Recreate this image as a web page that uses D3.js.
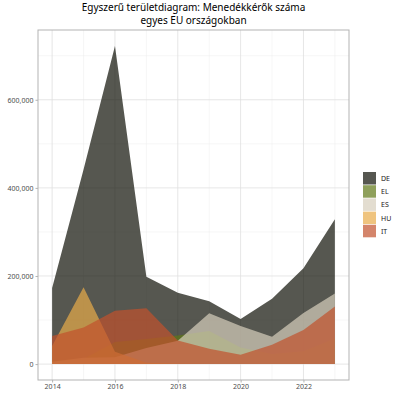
<!DOCTYPE html>
<html>
<head>
<meta charset="utf-8">
<script src="https://cdn.jsdelivr.net/npm/d3@7"></script>
<style>
  body { margin: 0; background: #fff; }
  text { font-family: "Noto Sans", sans-serif; }
</style>
</head>
<body>
<div id="chart"></div>
<script>
// first-time asylum applicants
var years = [2014, 2015, 2016, 2017, 2018, 2019, 2020, 2021, 2022, 2023];
var countries = ["DE", "EL", "ES", "HU", "IT"];
var DE = [172945, 441800, 722265, 198255, 161885, 142450, 102525, 148175, 217735, 329035];
var EL = [7585, 11370, 49875, 56940, 64975, 74915, 37860, 22660, 29135, 57895];
var ES = [5460, 14600, 15570, 36605, 52730, 115190, 86385, 62050, 116135, 160460];
var HU = [41215, 174435, 28215, 3115, 635, 465, 90, 40, 45, 30];
var IT = [63655, 82790, 121185, 126550, 53440, 35005, 21330, 43910, 77195, 130565];
var colors = ["#0e1005", "#5f7716", "#d7cebc", "#e8ab48", "#c2512c"];
var xTicks = [2014, 2016, 2018, 2020, 2022];
var yTicks = [0, 200000, 400000, 600000];

var seriesValues = [DE, EL, ES, HU, IT];

var width = 400, height = 400;
var margin = {top: 30, right: 51, bottom: 20, left: 38};

var svg = d3.select('#chart').append('svg')
    .attr('width', width)
    .attr('height', height);

var x = d3.scaleLinear()
    .domain([2014 - 0.45, 2023 + 0.45])
    .range([margin.left, width - margin.right]);

var yMax = d3.max(DE);
var y = d3.scaleLinear()
    .domain([-yMax * 0.05, yMax * 1.05])
    .range([height - margin.bottom, margin.top]);

// grid
var grid = svg.append('g');
d3.range(2015, 2024, 2).forEach(function(v) {
    grid.append('line').attr('x1', x(v)).attr('x2', x(v))
        .attr('y1', margin.top).attr('y2', height - margin.bottom)
        .attr('stroke', '#ededed').attr('stroke-width', 0.5);
});
[100000, 300000, 500000, 700000].forEach(function(v) {
    grid.append('line').attr('y1', y(v)).attr('y2', y(v))
        .attr('x1', margin.left).attr('x2', width - margin.right)
        .attr('stroke', '#ededed').attr('stroke-width', 0.5);
});
xTicks.forEach(function(v) {
    grid.append('line').attr('x1', x(v)).attr('x2', x(v))
        .attr('y1', margin.top).attr('y2', height - margin.bottom)
        .attr('stroke', '#e0e0e0').attr('stroke-width', 0.8);
});
yTicks.forEach(function(v) {
    grid.append('line').attr('y1', y(v)).attr('y2', y(v))
        .attr('x1', margin.left).attr('x2', width - margin.right)
        .attr('stroke', '#e0e0e0').attr('stroke-width', 0.8);
});

// areas, drawn over each other
var area = d3.area()
    .x(function(d, i) { return x(years[i]); })
    .y0(y(0))
    .y1(function(d) { return y(d); });

svg.append('g').selectAll('path')
    .data(seriesValues)
    .enter().append('path')
    .attr('d', area)
    .attr('fill', function(d, i) { return colors[i]; })
    .attr('fill-opacity', 0.7);

// border
svg.append('rect')
    .attr('x', margin.left).attr('y', margin.top)
    .attr('width', width - margin.left - margin.right)
    .attr('height', height - margin.top - margin.bottom)
    .attr('fill', 'none').attr('stroke', '#b3b3b3').attr('stroke-width', 1);

// axes
var fmt = d3.format(',');
var xAxis = svg.append('g')
    .attr('transform', 'translate(0,' + (height - margin.bottom) + ')')
    .call(d3.axisBottom(x).tickValues(xTicks).tickFormat(d3.format('d')).tickSize(2.5).tickPadding(2));
var yAxis = svg.append('g')
    .attr('transform', 'translate(' + margin.left + ',0)')
    .call(d3.axisLeft(y).tickValues(yTicks).tickFormat(fmt).tickSize(2.5).tickPadding(2));
[xAxis, yAxis].forEach(function(a) {
    a.select('.domain').remove();
    a.selectAll('.tick line').attr('stroke', '#b3b3b3');
    a.selectAll('.tick text').attr('fill', '#4d4d4d').style('font-size', '7px');
});

// title
var cx = (margin.left + width - margin.right) / 2;
var titleLines = ['Egyszerű területdiagram: Menedékkérők száma', 'egyes EU országokban'];
titleLines.forEach(function(t, i) {
    svg.append('text')
        .attr('x', cx).attr('y', 10.5 + i * 13.7)
        .attr('text-anchor', 'middle')
        .attr('fill', '#000')
        .style('font-size', '10px')
        .text(t);
});

// legend
var legend = svg.append('g').attr('transform', 'translate(363,172)');
countries.forEach(function(c, i) {
    var g = legend.append('g').attr('transform', 'translate(0,' + (i * 13.2) + ')');
    g.append('rect').attr('width', 13).attr('height', 12.5)
        .attr('fill', '#fff');
    g.append('rect').attr('width', 13).attr('height', 12.5)
        .attr('fill', colors[i]).attr('fill-opacity', 0.7);
    g.append('text').attr('x', 18).attr('y', 6.5).attr('dy', '0.35em')
        .attr('fill', '#1a1a1a').style('font-size', '7px').text(c);
});
</script>
</body>
</html>
